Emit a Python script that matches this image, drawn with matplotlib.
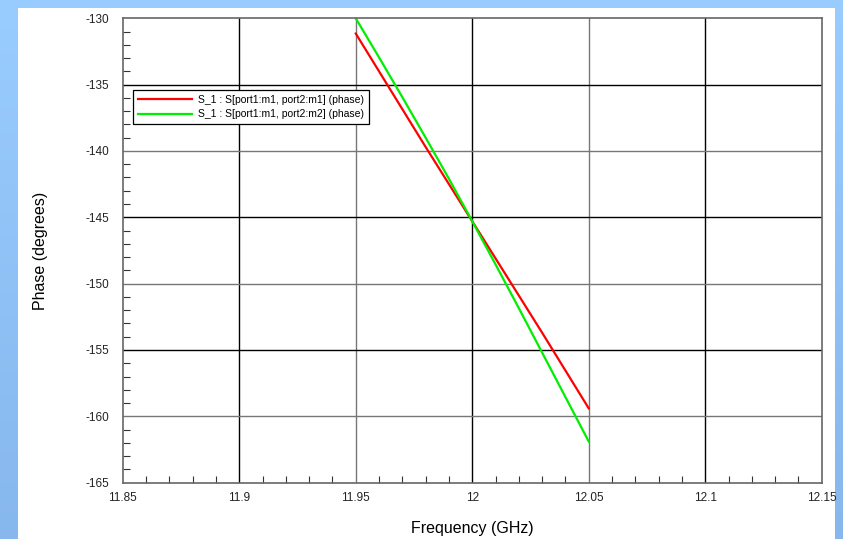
import numpy as np
import matplotlib.pyplot as plt
from matplotlib.patches import Rectangle
from matplotlib.ticker import MultipleLocator

plt.rcParams['font.family'] = ['Liberation Sans', 'DejaVu Sans']
plt.rcParams['axes.unicode_minus'] = False

# S-parameter phase sweep around 12 GHz
freq_ghz = [11.95, 11.96, 11.97, 11.98, 11.99, 12.00, 12.01, 12.02, 12.03, 12.04, 12.05]
phase_m1 = [-131.15, -134.0, -136.85, -139.7, -142.5, -145.3,
            -148.1, -150.9, -153.7, -156.55, -159.4]
phase_m2 = [-130.0, -132.95, -135.95, -139.0, -142.1, -145.3,
            -148.55, -151.85, -155.2, -158.55, -161.9]
labels = ['S_1 : S[port1:m1, port2:m1] (phase)',
          'S_1 : S[port1:m1, port2:m2] (phase)']

x_ticks = [11.85, 11.9, 11.95, 12.0, 12.05, 12.1, 12.15]
x_ticklabels = ['11.85', '11.9', '11.95', '12', '12.05', '12.1', '12.15']
y_ticks = [-165, -160, -155, -150, -145, -140, -135, -130]

fig = plt.figure(figsize=(8.43, 5.39), dpi=100)

# blue slide background with a white panel
bg = fig.add_axes([0, 0, 1, 1], zorder=-10)
grad = np.linspace(0, 1, 256).reshape(-1, 1)
top = np.array([0.60, 0.80, 1.00])
bot = np.array([0.53, 0.72, 0.93])
img = top + (bot - top) * grad[:, :, None]
bg.imshow(img, aspect='auto', extent=[0, 1, 0, 1], origin='upper')
bg.add_patch(Rectangle((18 / 843, 0), (835 - 18) / 843, 1 - 8 / 539,
                       facecolor='white', edgecolor='none'))
bg.set_xlim(0, 1)
bg.set_ylim(0, 1)
bg.axis('off')

ax = fig.add_axes([0.1456, 0.1045, 0.8292, 0.8616])
ax.plot(freq_ghz, phase_m1, color='#ff0000', lw=1.6, label=labels[0])
ax.plot(freq_ghz, phase_m2, color='#00ee00', lw=1.6, label=labels[1])

ax.set_xlim(11.85, 12.15)
ax.set_ylim(-165, -130)
ax.set_xticks(x_ticks)
ax.set_xticklabels(x_ticklabels)
ax.set_yticks(y_ticks)
ax.xaxis.set_minor_locator(MultipleLocator(0.01))
ax.yaxis.set_minor_locator(MultipleLocator(1))
ax.tick_params(which='both', direction='in', color='#333333',
               labelsize=8.5, labelcolor='#222222')
ax.tick_params(which='major', length=0)
ax.tick_params(axis='y', which='major', pad=10)
ax.tick_params(axis='x', which='major', pad=7)
ax.tick_params(which='minor', length=5, width=0.8)

# alternating dark / grey grid lines
for i, xv in enumerate(x_ticks[1:-1]):
    ax.axvline(xv, color='black' if i % 2 == 0 else '#777777', lw=1.0, zorder=0.5)
for i, yv in enumerate(y_ticks[1:-1][::-1]):
    ax.axhline(yv, color='black' if i % 2 == 0 else '#777777', lw=1.0, zorder=0.5)

for s in ax.spines.values():
    s.set_color('#666666')
    s.set_linewidth(1.2)

ax.set_xlabel('Frequency (GHz)', fontsize=11.5, labelpad=12)
ax.set_ylabel('Phase (degrees)', fontsize=11.5, labelpad=27)

leg = ax.legend(loc='upper left', bbox_to_anchor=(0.0147, 0.8456),
                borderaxespad=0, fancybox=False, framealpha=1,
                edgecolor='black', fontsize=7.5, handlelength=5.2,
                handletextpad=0.6, borderpad=0.45, labelspacing=0.45)
leg.get_frame().set_linewidth(0.9)

fig.savefig('out.png', dpi=100)
